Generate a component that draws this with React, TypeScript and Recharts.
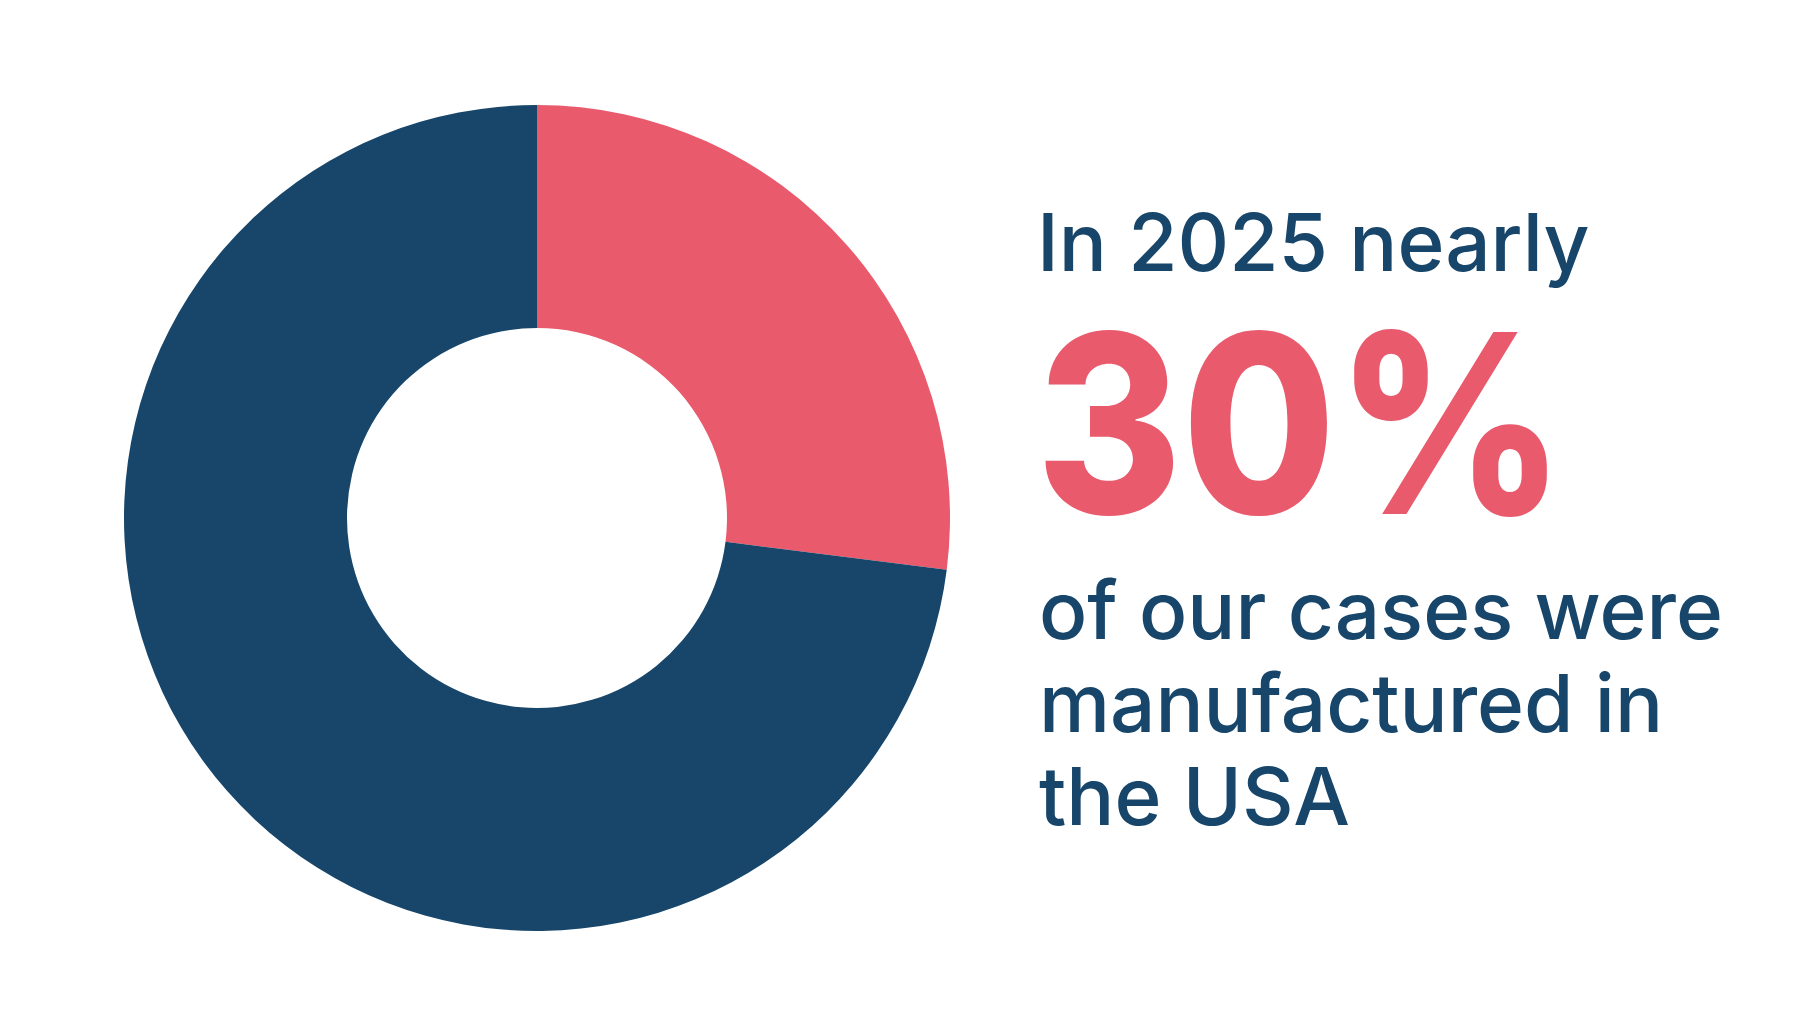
import React from "react";
import { PieChart, Pie, Cell } from "recharts";

const categories = ["Manufactured in the USA", "Manufactured elsewhere"];
const values = [27, 73];
const colors = ["#E95A6D", "#17466A"];

const headlineLines = ["In 2025 nearly"];
const bigNumber = "30%";
const bodyLines = ["of our cases were", "manufactured in", "the USA"];

const data = categories.map((name, i) => ({ name, value: values[i] }));

const W = 1809;
const H = 1035;
const FONT = "Inter, 'Open Sans', sans-serif";

export default function App() {
  return (
    <div style={{ position: "absolute", left: 0, top: 0, width: W, height: H, background: "#fff" }}>
      <PieChart width={W} height={H}>
        <Pie
          data={data}
          dataKey="value"
          nameKey="name"
          cx={532}
          cy={513}
          innerRadius={190}
          outerRadius={413}
          startAngle={90}
          endAngle={-270}
          stroke="none"
          isAnimationActive={false}
        >
          {data.map((d, i) => (
            <Cell key={d.name} fill={colors[i]} />
          ))}
        </Pie>
      </PieChart>
      <svg width={W} height={H} style={{ position: "absolute", left: 0, top: 0 }}>
        {headlineLines.map((t, i) => (
          <text key={t} x={1037} y={271 + i * 93} fill="#17466A" fontFamily={FONT} fontSize={80} fontWeight={500}>
            {t}
          </text>
        ))}
        <g transform="translate(1036,514) scale(0.89,1)">
          <text x={0} y={0} fill="#E95A6D" fontFamily={FONT} fontSize={250} fontWeight={800}>
            {bigNumber}
          </text>
        </g>
        {bodyLines.map((t, i) => (
          <text key={t} x={1039} y={639 + i * 93} fill="#17466A" fontFamily={FONT} fontSize={80} fontWeight={500}>
            {t}
          </text>
        ))}
      </svg>
    </div>
  );
}
